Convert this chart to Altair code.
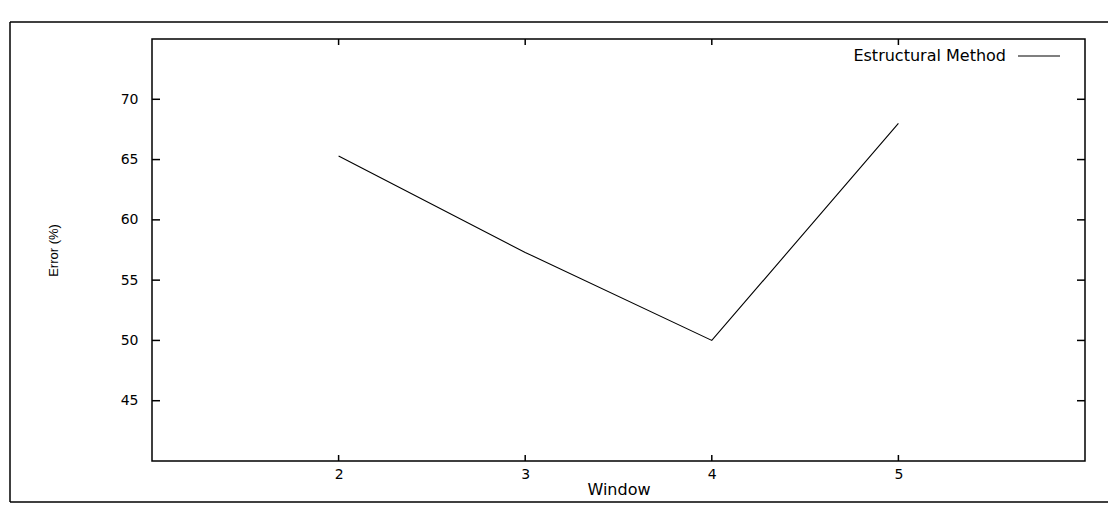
import altair as alt
import pandas as pd

# ---- data ----
window = [2, 3, 4, 5]
error_pct = [65.3, 57.3, 50.0, 68.0]
series_name = "Estructural Method"
x_ticks = [2, 3, 4, 5]
y_ticks = [45, 50, 55, 60, 65, 70]

W, H = 933, 422
FONT = "DejaVu Sans"

df = pd.DataFrame({"Window": window, "Error": error_pct})
xt = pd.DataFrame({"v": x_ticks})
yt = pd.DataFrame({"v": y_ticks})

xs = alt.Scale(domain=[1, 6], nice=False, zero=False)
ys = alt.Scale(domain=[40, 75], nice=False, zero=False)

line = alt.Chart(df).mark_line(color="black", strokeWidth=1.1).encode(
    x=alt.X("Window:Q", scale=xs,
            axis=alt.Axis(values=x_ticks, format="d", ticks=False, domain=False, grid=False,
                          labelPadding=6, labelFontSize=14, labelFont=FONT, labelColor="black",
                          title="Window", titleFont=FONT, titleFontSize=16, titleFontWeight="normal",
                          titleColor="black", titlePadding=0)),
    y=alt.Y("Error:Q", scale=ys,
            axis=alt.Axis(values=y_ticks, format="d", ticks=False, domain=False, grid=False,
                          labelPadding=14, labelFontSize=14, labelFont=FONT, labelColor="black",
                          title="Error (%)", titleFont="Liberation Sans", titleFontSize=13,
                          titleFontWeight="normal", titleColor="black", titlePadding=60)),
)

# inward tick marks (left/right mirrored, bottom/top mirrored)
tl = alt.Chart(yt).mark_rule(color="black", strokeWidth=1.5).encode(
    y=alt.Y("v:Q", scale=ys), x=alt.value(0), x2=alt.value(8))
tr = alt.Chart(yt).mark_rule(color="black", strokeWidth=1.5).encode(
    y=alt.Y("v:Q", scale=ys), x=alt.value(W - 8), x2=alt.value(W))
tb = alt.Chart(xt).mark_rule(color="black", strokeWidth=1.5).encode(
    x=alt.X("v:Q", scale=xs), y=alt.value(H - 6), y2=alt.value(H))
tt = alt.Chart(xt).mark_rule(color="black", strokeWidth=1.5).encode(
    x=alt.X("v:Q", scale=xs), y=alt.value(0), y2=alt.value(6))

# legend (gnuplot style: text then line sample)
leg = pd.DataFrame({"label": [series_name]})
leg_text = alt.Chart(leg).mark_text(align="right", baseline="middle", font=FONT,
                                    fontSize=16, color="black").encode(
    text="label:N", x=alt.value(854), y=alt.value(17))
leg_line = alt.Chart(leg).mark_rule(color="black", strokeWidth=1.2).encode(
    x=alt.value(866), x2=alt.value(908), y=alt.value(17))

# outer page frame of the scanned figure
of_top = alt.Chart(leg).mark_rule(color="black", strokeWidth=1.5).encode(
    x=alt.value(-142), x2=alt.value(980), y=alt.value(-17))
of_bot = alt.Chart(leg).mark_rule(color="black", strokeWidth=1.5).encode(
    x=alt.value(-142), x2=alt.value(980), y=alt.value(463))
of_left = alt.Chart(leg).mark_rule(color="black", strokeWidth=1.5).encode(
    x=alt.value(-142), y=alt.value(-17), y2=alt.value(463))

chart = alt.layer(line, tl, tr, tb, tt, leg_text, leg_line, of_top, of_bot, of_left).properties(
    width=W, height=H,
    autosize=alt.AutoSizeParams(type="none"),
    padding={"left": 144, "top": 31, "right": 23, "bottom": 45},
    background="white",
).configure_view(stroke="black", strokeWidth=1.5)

chart.save("out.html", embed_options={"renderer": "svg", "actions": False})
